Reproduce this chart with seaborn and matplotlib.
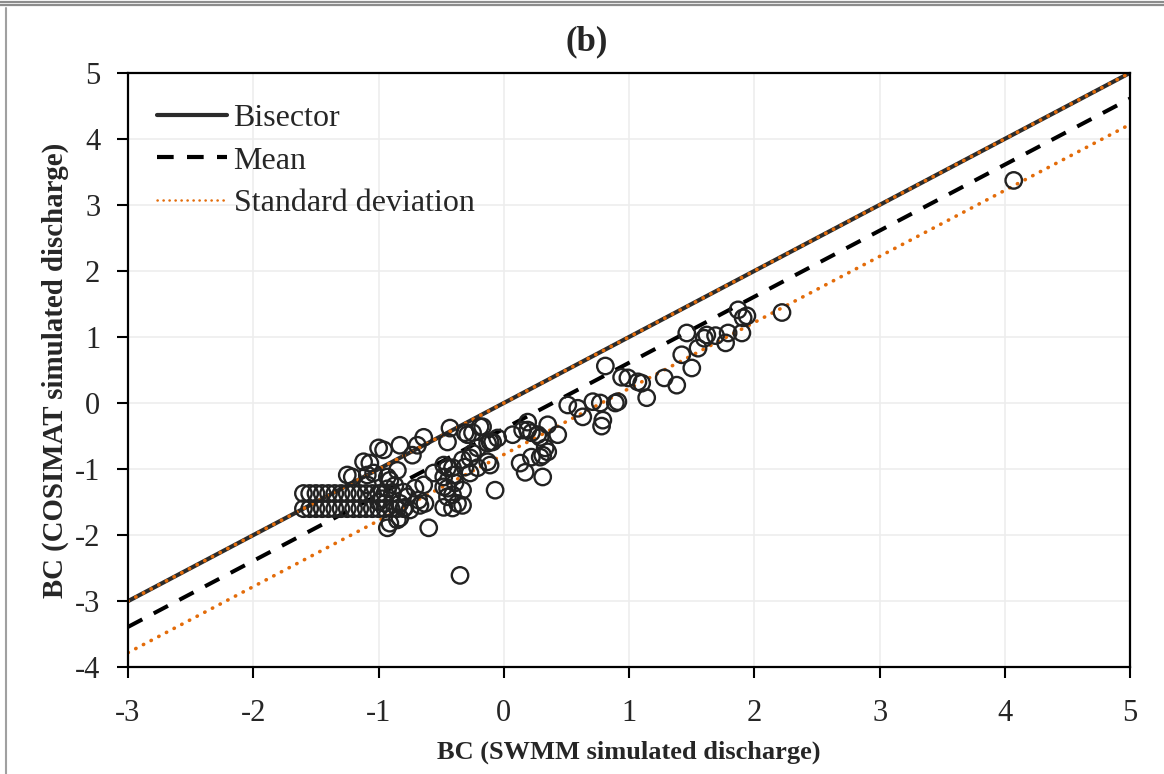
import matplotlib
matplotlib.use("Agg")
import matplotlib.pyplot as plt
from matplotlib.lines import Line2D
import seaborn as sns

# scatter values: BC of SWMM vs BC of COSIMAT simulated discharge
swmm_bc = [
    -1.60, -1.55, -1.50, -1.45, -1.40, -1.35, -1.30, -1.25, -1.20, -1.15, -1.10, -1.05, -1.00, -0.95,
    -1.60, -1.55, -1.50, -1.45, -1.40, -1.35, -1.30, -1.25, -1.20, -1.15, -1.10, -1.05, -1.00, -0.95, -0.90, -0.85, -0.80,
    -1.25, -1.21, -1.12, -1.07, -1.09, -1.04, -1.09, -1.00, -0.96, -0.93, -0.91, -0.85, -0.91, -0.93, -0.85,
    -0.97, -0.93, -0.89, -0.87, -1.00, -0.95,
    -0.43, -0.31, -0.29, -0.25, -0.45, -0.64, -0.69, -0.73, -0.83, -0.19, -0.13, -0.09, -0.21, -0.25,
    -0.27, -0.31, -0.33, -0.13, -0.11, -0.21, -0.27, -0.48, -0.45, -0.56, -0.41, -0.48, -0.40, -0.48,
    -0.45, -0.39, -0.33, -0.45, -0.41, -0.37, -0.33, -0.48, -0.41, -0.07, -0.64, -0.71, -0.80, -0.77,
    -0.68, -0.63, -0.67, -0.79, -0.83, -0.75, -0.83, -0.60, -0.35, 0.13, 0.17,
    -0.05, 0.07, 0.19, 0.15, 0.19, 0.22, 0.27, 0.29, 0.35, 0.43, 0.33, 0.35, 0.31, 0.29, 0.22, 0.31,
    0.51, 0.59, 0.63, 0.71, 0.77, 0.79, 0.78, 0.89, 0.91, -0.11, -0.17,
    0.81, 0.94, 0.99, 1.07, 1.10, 1.14, 1.28, 1.38, 1.50, 1.42, 1.46, 1.55, 1.60, 1.62, 1.69, 1.77,
    1.79, 1.90, 1.91, 1.94, 1.87, 2.22, 4.07,
]
cosimat_bc = [
    -1.37, -1.37, -1.37, -1.37, -1.37, -1.37, -1.37, -1.37, -1.37, -1.37, -1.37, -1.37, -1.37, -1.37,
    -1.60, -1.60, -1.60, -1.60, -1.60, -1.60, -1.60, -1.60, -1.60, -1.60, -1.60, -1.60, -1.60, -1.60, -1.60, -1.60, -1.60,
    -1.09, -1.12, -0.89, -0.91, -1.09, -1.06, -1.24, -0.68, -0.71, -1.12, -1.17, -1.02, -1.82, -1.89, -1.77,
    -1.45, -1.30, -1.37, -1.25, -1.50, -1.52,
    -0.38, -0.45, -0.48, -0.45, -0.59, -0.52, -0.64, -0.79, -0.64, -0.36, -0.61, -0.59, -0.68, -0.76,
    -0.83, -0.97, -0.86, -0.89, -0.94, -0.98, -1.06, -0.94, -0.98, -1.06, -0.98, -1.12, -1.09, -1.27,
    -1.29, -1.21, -1.32, -1.42, -1.39, -1.52, -1.55, -1.58, -1.59, -1.32, -1.24, -1.29, -1.35, -1.42,
    -1.47, -1.52, -1.55, -1.58, -1.52, -1.62, -1.74, -1.89, -2.61, -0.91, -1.05,
    -0.53, -0.48, -0.29, -0.41, -0.41, -0.45, -0.48, -0.52, -0.33, -0.48, -0.68, -0.74, -0.79, -0.82, -0.82, -1.12,
    -0.03, -0.08, -0.21, 0.02, 0.00, -0.26, -0.35, 0.00, 0.02, -0.59, -0.36,
    0.56, 0.39, 0.38, 0.32, 0.30, 0.08, 0.38, 0.27, 0.53, 0.73, 1.06, 0.83, 0.98, 1.03, 1.02, 0.91,
    1.06, 1.06, 1.29, 1.32, 1.41, 1.37, 3.37,
]

# reference lines
line_x = [-3, 5]
bisector = [-3, 5]
mean_line = [-3.39, 4.61]
sd_upper = [-3.0, 5.0]
sd_lower = [-3.78, 4.22]

sns.set_theme(style="white")
plt.rcParams["font.family"] = ["Liberation Serif", "DejaVu Serif"]
plt.rcParams["axes.unicode_minus"] = False

fig = plt.figure(figsize=(11.64, 7.74), dpi=100)
ax = fig.add_axes([0.110, 0.138, 0.861, 0.768])

orange = "#E36C0A"
dotted = (0, (0.1, 2.3))
sns.lineplot(x=line_x, y=bisector, ax=ax, color="#2b2b2b", linewidth=3.0, label="Bisector")
sns.lineplot(x=line_x, y=mean_line, ax=ax, color="black", linewidth=2.9,
             linestyle=(0, (4.0, 3.2)), label="Mean")
sns.lineplot(x=line_x, y=sd_upper, ax=ax, color=orange, linewidth=2.6,
             linestyle=dotted, dash_capstyle="round", label="Standard deviation")
sns.lineplot(x=line_x, y=sd_lower, ax=ax, color=orange, linewidth=2.6,
             linestyle=dotted, dash_capstyle="round")

sns.scatterplot(x=swmm_bc, y=cosimat_bc, ax=ax, marker="o", s=140,
                facecolors="none", edgecolor="#222222", linewidth=1.7, zorder=3)

ax.set_xlim(-3, 5)
ax.set_ylim(-4, 5)
ax.set_xticks(range(-3, 6))
ax.set_yticks(range(-4, 6))
ax.grid(True, color="#ededed", linewidth=1.2)
ax.set_axisbelow(True)
for side in ["left", "bottom", "top", "right"]:
    ax.spines[side].set_color("black")
    ax.spines[side].set_linewidth(1.6)
ax.tick_params(axis="both", which="major", direction="out", length=8, width=1.5,
               color="black", labelsize=22, bottom=True, left=True)
ax.tick_params(axis="x", pad=15)
ax.tick_params(axis="y", pad=12)

ax.set_xlabel("BC (SWMM simulated discharge)", fontsize=19, fontweight="bold", labelpad=9)
ax.set_ylabel("BC (COSIMAT simulated discharge)", fontsize=20.8, fontweight="bold", labelpad=4)
fig.text(0.504, 0.946, "(b)", fontsize=25, fontweight="bold", ha="center", va="center")

leg = ax.legend(loc="upper left", bbox_to_anchor=(0.016, 0.97), frameon=False, fontsize=23,
                handlelength=2.2, handletextpad=0.2, labelspacing=0.42, borderaxespad=0.0)
leg_lines = leg.get_lines()
leg_lines[0].set_linewidth(3.0)
leg_lines[1].set_linewidth(3.0)
leg_lines[2].set_linewidth(1.8)

# screenshot frame lines
fig.add_artist(Line2D([0, 1], [0.998, 0.998], color="#8c8c8c", linewidth=1.6))
fig.add_artist(Line2D([0, 1], [0.9929, 0.9929], color="#8c8c8c", linewidth=1.6))
fig.add_artist(Line2D([0.005, 0.005], [0, 0.99], color="#a0a0a0", linewidth=1.5))

fig.savefig("out.png", dpi=100)
